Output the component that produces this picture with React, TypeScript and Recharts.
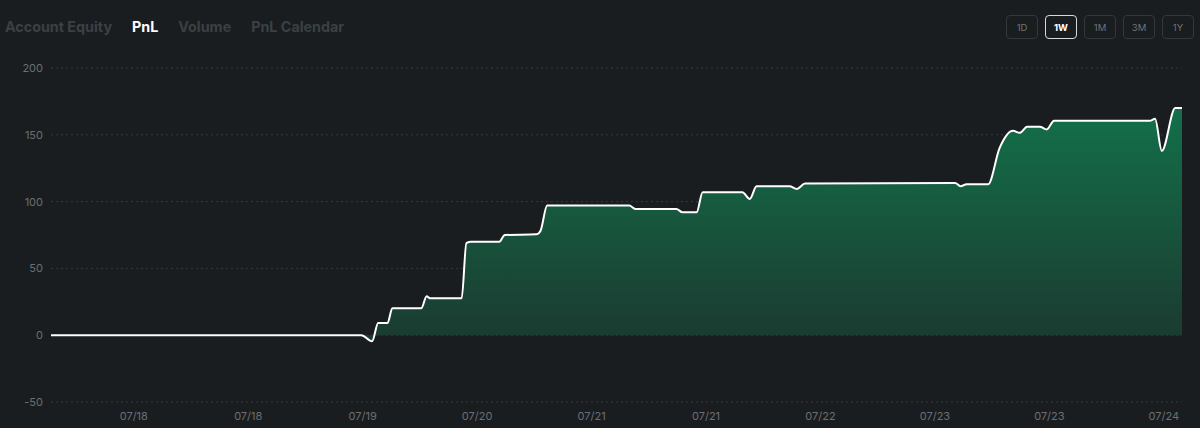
import { AreaChart, Area, XAxis, YAxis, CartesianGrid } from "recharts";

// hours since start of the 1W window
const hours = [
  0, 46.1, 47.7, 48.6, 50.0, 50.7, 55.0, 55.8, 56.3, 61.0, 61.7, 62.4, 66.6, 67.4,
  72.1, 72.7, 73.7, 85.9, 86.8, 92.9, 93.8, 95.9, 96.8, 102.7, 103.8, 104.8, 109.7,
  110.8, 112.0, 134.3, 135.1, 136.0, 139.2, 140.9, 142.9, 143.9, 145.0, 146.9, 147.9,
  149.0, 163.2, 164.0, 165.0, 167.0, 168.0,
];
const pnl = [
  0, 0, -4.5, 9.2, 9.2, 20.2, 20.2, 29.2, 27.7, 27.7, 69, 70, 70, 75,
  75.5, 78, 97, 97, 94.5, 94.5, 92, 92, 107, 107, 102, 111.5, 111.5,
  109.5, 113.5, 114, 111.5, 113, 113, 140, 153, 151.5, 156, 156, 154,
  160.5, 160.5, 162, 138, 170, 170,
];

const tickHours = [12.3, 29.3, 46.3, 63.3, 80.3, 97.3, 114.3, 131.3, 148.3, 165.3];
const tickLabels = ["07/18", "07/18", "07/19", "07/20", "07/21", "07/21", "07/22", "07/23", "07/23", "07/24"];
const yTicks = [-50, 0, 50, 100, 150, 200];

const tabs = ["Account Equity", "PnL", "Volume", "PnL Calendar"];
const ranges = ["1D", "1W", "1M", "3M", "1Y"];

const data = hours.map((h, i) => ({ t: h, pnl: pnl[i] }));

const font = "Inter, 'Noto Sans', sans-serif";

export default function App() {
  return (
    <div style={{ position: "absolute", left: 0, top: 0, width: 1200, height: 428, background: "#1a1d20", fontFamily: font, overflow: "hidden" }}>
      <div style={{ position: "absolute", left: 5, top: 18, display: "flex", gap: 20, fontSize: 14.3, fontWeight: 700 }}>
        {tabs.map((t) => (
          <span key={t} style={{ color: t === "PnL" ? "#ffffff" : "#3b4044" }}>{t}</span>
        ))}
      </div>
      <div style={{ position: "absolute", left: 1006, top: 15, display: "flex", gap: 7 }}>
        {ranges.map((r) => (
          <div
            key={r}
            style={{
              width: 32,
              height: 24,
              boxSizing: "border-box",
              border: r === "1W" ? "1.5px solid #d8d8d8" : "1px solid #33383c",
              borderRadius: 4,
              color: r === "1W" ? "#ffffff" : "#6f7378",
              fontWeight: r === "1W" ? 700 : 400,
              fontSize: 9.5,
              display: "flex",
              alignItems: "center",
              justifyContent: "center",
            }}
          >
            {r}
          </div>
        ))}
      </div>
      <div style={{ position: "absolute", left: 0, top: 0 }}>
        <AreaChart width={1200} height={428} data={data} margin={{ top: 68, right: 18, bottom: 0, left: 0 }}>
          <defs>
            <linearGradient id="pnlFill" x1="0" y1="0" x2="0" y2="1">
              <stop offset="0%" stopColor="#13704a" />
              <stop offset="100%" stopColor="#1b3a30" />
            </linearGradient>
          </defs>
          <CartesianGrid vertical={false} stroke="#353a3e" strokeDasharray="2 3" />
          <XAxis
            dataKey="t"
            type="number"
            domain={[0, 168]}
            ticks={tickHours}
            tickFormatter={(v: number) => tickLabels[tickHours.indexOf(v)]}
            axisLine={false}
            tickLine={false}
            tickSize={0}
            tickMargin={10}
            height={26}
            tick={{ fill: "#6b6f73", fontSize: 11, fontFamily: font }}
            interval={0}
          />
          <YAxis
            domain={[-50, 200]}
            ticks={yTicks}
            axisLine={false}
            tickLine={false}
            tickSize={0}
            tickMargin={8}
            width={51}
            tick={{ fill: "#6b6f73", fontSize: 11, fontFamily: font }}
          />
          <Area
            type="monotone"
            dataKey="pnl"
            stroke="#ffffff"
            strokeWidth={2}
            fill="url(#pnlFill)"
            fillOpacity={1}
            dot={false}
            activeDot={false}
            isAnimationActive={false}
          />
        </AreaChart>
      </div>
    </div>
  );
}
